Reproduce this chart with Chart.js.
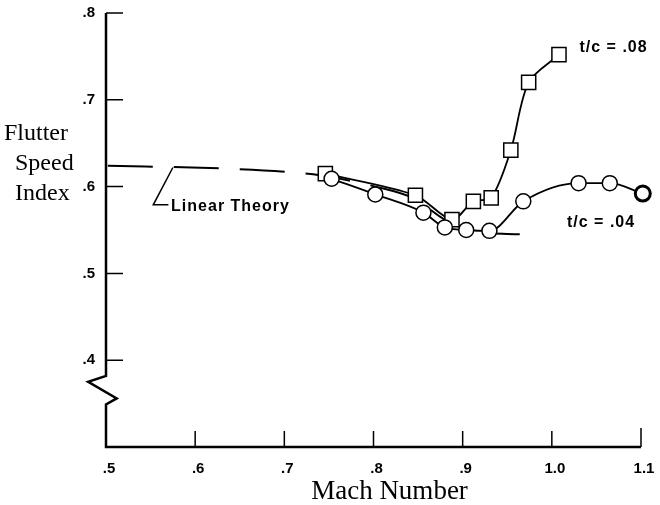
<!DOCTYPE html>
<html lang="en">
<head>
    <meta charset="UTF-8">
    <title>Flutter Speed Index vs Mach Number</title>
    <style>
        body {
            margin: 0;
            background: white;
        }
        #wrap {
            width: 660px;
            height: 505px;
        }
    </style>
    <script src="https://cdn.jsdelivr.net/npm/chart.js"></script>
</head>
<body>
    <div id="wrap"><canvas id="flutterChart"></canvas></div>
    <script>
        // t/c = .04 (circles)
        var machCircles = [0.753, 0.802, 0.856, 0.880, 0.904, 0.930, 0.968, 1.030, 1.065, 1.102];
        var fsiCircles  = [0.609, 0.591, 0.570, 0.553, 0.550, 0.549, 0.583, 0.604, 0.604, 0.592];

        // t/c = .08 (squares)
        var machSquares = [0.746, 0.847, 0.888, 0.912, 0.932, 0.954, 0.974, 1.008];
        var fsiSquares  = [0.615, 0.590, 0.562, 0.583, 0.587, 0.642, 0.720, 0.752];

        // linear theory (dashed)
        var machTheory = [0.502, 0.628, 0.702, 0.740, 0.802, 0.846, 0.880, 0.919, 0.964];
        var fsiTheory  = [0.624, 0.621, 0.617, 0.613, 0.600, 0.586, 0.562, 0.548, 0.545];

        // leader from the theory curve to its label
        var leaderMach = [0.575, 0.553, 0.570];
        var leaderFsi  = [0.622, 0.579, 0.579];

        // axis break on the y axis
        var breakMach = [0.5, 0.48, 0.512, 0.5];
        var breakFsi  = [0.382, 0.375, 0.356, 0.349];

        var xTicks = [0.5, 0.6, 0.7, 0.8, 0.9, 1.0, 1.1];
        var xTickLabels = ['.5', '.6', '.7', '.8', '.9', '1.0', '1.1'];
        var yTicks = [0.4, 0.5, 0.6, 0.7, 0.8];
        var yTickLabels = ['.4', '.5', '.6', '.7', '.8'];

        var notes = [
            { text: 't/c = .08', x: 1.031, y: 0.760 },
            { text: 't/c = .04', x: 1.017, y: 0.559 },
            { text: 'Linear Theory', x: 0.573, y: 0.577 }
        ];

        function toPoints(xs, ys) {
            return xs.map(function (v, i) { return { x: v, y: ys[i] }; });
        }

        function near(a, b) { return Math.abs(a - b) < 1e-6; }

        var circleBorders = machCircles.map(function (v, i) {
            return i === machCircles.length - 1 ? 3 : 1.5;
        });

        // draws the axes by hand: y axis with its break, ticks pointing inward
        var axisFrame = {
            id: 'axisFrame',
            beforeDatasetsDraw: function (chart) {
                var ctx = chart.ctx, xs = chart.scales.x, ys = chart.scales.y;
                var px = function (v) { return xs.getPixelForValue(v); };
                var py = function (v) { return ys.getPixelForValue(v); };
                ctx.save();
                ctx.strokeStyle = '#000';
                ctx.lineWidth = 2.5;
                ctx.lineJoin = 'miter';
                ctx.beginPath();
                ctx.moveTo(px(0.5), py(0.8));
                breakMach.forEach(function (m, i) { ctx.lineTo(px(m), py(breakFsi[i])); });
                ctx.lineTo(px(0.5), py(0.3));
                ctx.lineTo(px(1.1), py(0.3));
                ctx.stroke();

                ctx.lineWidth = 1.5;
                ctx.beginPath();
                yTicks.forEach(function (v) {
                    ctx.moveTo(px(0.5), py(v));
                    ctx.lineTo(px(0.5) + 17, py(v));
                });
                xTicks.forEach(function (v) {
                    if (near(v, 0.5)) return;
                    var len = near(v, 1.1) ? 19 : 16;
                    ctx.moveTo(px(v), py(0.3));
                    ctx.lineTo(px(v), py(0.3) - len);
                });
                ctx.stroke();
                ctx.restore();
            },
            afterDatasetsDraw: function (chart) {
                var ctx = chart.ctx, xs = chart.scales.x, ys = chart.scales.y, area = chart.chartArea;
                ctx.save();
                ctx.fillStyle = '#000';
                ctx.textBaseline = 'middle';
                ctx.font = 'bold 16px "Liberation Sans", Arial, sans-serif';
                ctx.letterSpacing = '1px';
                notes.forEach(function (n) {
                    ctx.fillText(n.text, xs.getPixelForValue(n.x), ys.getPixelForValue(n.y));
                });

                ctx.letterSpacing = '0px';
                ctx.textBaseline = 'alphabetic';
                ctx.font = '24px "Liberation Serif", "Times New Roman", serif';
                ctx.textAlign = 'left';
                ctx.fillText('Flutter', 4, 140);
                ctx.fillText('Speed', 15, 170);
                ctx.fillText('Index', 15, 200);

                ctx.font = '27px "Liberation Serif", "Times New Roman", serif';
                ctx.textAlign = 'center';
                ctx.fillText('Mach Number', (area.left + area.right) / 2 + 16, 499);
                ctx.restore();
            }
        };

        var config = {
            type: 'line',
            data: {
                datasets: [{
                    label: 't/c = .04',
                    data: toPoints(machCircles, fsiCircles),
                    borderColor: '#000',
                    borderWidth: 1.8,
                    cubicInterpolationMode: 'monotone',
                    pointStyle: 'circle',
                    pointRadius: 7.5,
                    pointBackgroundColor: '#fff',
                    pointBorderColor: '#000',
                    pointBorderWidth: circleBorders,
                    clip: false
                }, {
                    label: 't/c = .08',
                    data: toPoints(machSquares, fsiSquares),
                    borderColor: '#000',
                    borderWidth: 1.8,
                    tension: 0.3,
                    pointStyle: 'rect',
                    pointRadius: 10,
                    pointBackgroundColor: '#fff',
                    pointBorderColor: '#000',
                    pointBorderWidth: 1.5,
                    clip: false
                }, {
                    label: 'Linear Theory',
                    data: toPoints(machTheory, fsiTheory),
                    borderColor: '#000',
                    borderWidth: 2,
                    borderDash: [45, 21],
                    cubicInterpolationMode: 'monotone',
                    pointRadius: 0,
                    clip: false
                }, {
                    label: 'leader',
                    data: toPoints(leaderMach, leaderFsi),
                    borderColor: '#000',
                    borderWidth: 1.5,
                    tension: 0,
                    pointRadius: 0,
                    clip: false
                }]
            },
            options: {
                responsive: true,
                maintainAspectRatio: false,
                animation: false,
                layout: { padding: { top: 13, right: 19, left: 0, bottom: 0 } },
                plugins: {
                    legend: { display: false },
                    tooltip: { enabled: false }
                },
                scales: {
                    x: {
                        type: 'linear',
                        min: 0.5,
                        max: 1.1,
                        afterFit: function (scale) {
                            scale.height = 58;
                            scale.paddingLeft = 0;
                            scale.paddingRight = 0;
                        },
                        afterBuildTicks: function (scale) {
                            scale.ticks = xTicks.map(function (v) { return { value: v }; });
                        },
                        grid: { display: false, drawTicks: false },
                        border: { display: false },
                        ticks: {
                            color: '#000',
                            padding: 13,
                            labelOffset: 3,
                            maxRotation: 0,
                            autoSkip: false,
                            font: { family: '"Liberation Sans", Arial, sans-serif', size: 15, weight: 'bold' },
                            callback: function (v) {
                                var i = xTicks.findIndex(function (t) { return near(t, v); });
                                return i < 0 ? '' : xTickLabels[i];
                            }
                        }
                    },
                    y: {
                        min: 0.3,
                        max: 0.8,
                        afterFit: function (scale) {
                            scale.width = 106;
                            scale.paddingTop = 0;
                            scale.paddingBottom = 0;
                        },
                        afterBuildTicks: function (scale) {
                            scale.ticks = yTicks.map(function (v) { return { value: v }; });
                        },
                        grid: { display: false, drawTicks: false },
                        border: { display: false },
                        ticks: {
                            color: '#000',
                            padding: 11,
                            autoSkip: false,
                            font: { family: '"Liberation Sans", Arial, sans-serif', size: 15, weight: 'bold' },
                            callback: function (v) {
                                var i = yTicks.findIndex(function (t) { return near(t, v); });
                                return i < 0 ? '' : yTickLabels[i];
                            }
                        }
                    }
                }
            },
            plugins: [axisFrame]
        };

        var flutterChart = new Chart(document.getElementById('flutterChart'), config);
    </script>
</body>
</html>
